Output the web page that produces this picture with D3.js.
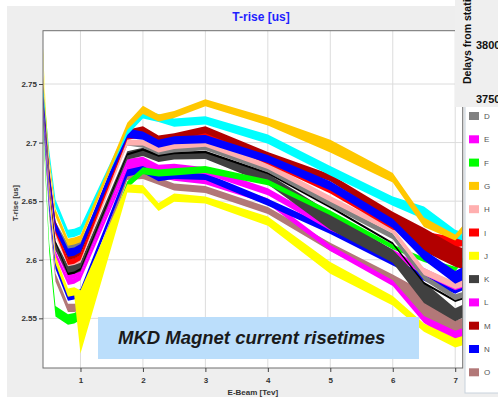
<!DOCTYPE html>
<html>
<head>
<meta charset="utf-8">
<script src="https://cdn.jsdelivr.net/npm/d3@7"></script>
<style>
  body { margin: 0; background: #fff; }
  svg { display: block; font-family: "Liberation Sans", Arial, sans-serif; }
</style>
</head>
<body>
<div id="chart"></div>
<script>
// E-Beam energies [TeV] where the risetimes were sampled
const energies = [0.4, 0.5, 0.6, 0.8, 0.9, 1.0, 1.75, 2.0, 2.25, 2.5, 3, 4, 5, 6, 6.5, 7, 7.12];
const xTicks = [1, 2, 3, 4, 5, 6, 7];
const yTicks = [2.55, 2.6, 2.65, 2.7, 2.75];

const seriesNames = ["A", "B", "C", "D", "E", "F", "G", "H", "I", "J", "K", "L", "M", "N", "O"];

// band centre values, T-rise [us]
const midA = [2.740, 2.665, 2.615, 2.588, 2.589, 2.592, 2.690, 2.694, 2.689, 2.691, 2.692, 2.674, 2.645, 2.614, 2.580, 2.565, 2.567];
const midB = [2.725, 2.645, 2.595, 2.568, 2.569, 2.572, 2.674, 2.677, 2.670, 2.672, 2.671, 2.649, 2.625, 2.598, 2.585, 2.574, 2.577];
const midC = [2.745, 2.690, 2.648, 2.622, 2.623, 2.625, 2.710, 2.724, 2.721, 2.717, 2.719, 2.703, 2.676, 2.650, 2.640, 2.622, 2.620];
const midD = [2.738, 2.672, 2.630, 2.611, 2.612, 2.613, 2.700, 2.698, 2.692, 2.694, 2.696, 2.677, 2.648, 2.620, 2.585, 2.568, 2.570];
const midE = [2.738, 2.665, 2.612, 2.586, 2.587, 2.590, 2.683, 2.685, 2.678, 2.679, 2.676, 2.658, 2.628, 2.606, 2.590, 2.577, 2.579];
const midF = [2.715, 2.610, 2.556, 2.549, 2.550, 2.553, 2.664, 2.676, 2.674, 2.675, 2.677, 2.666, 2.640, 2.611, 2.600, 2.592, 2.600];
const midG = [2.755, 2.685, 2.640, 2.615, 2.616, 2.618, 2.714, 2.728, 2.721, 2.724, 2.734, 2.718, 2.697, 2.670, 2.632, 2.619, 2.626];
const midH = [2.742, 2.668, 2.622, 2.597, 2.598, 2.600, 2.700, 2.700, 2.694, 2.697, 2.699, 2.680, 2.652, 2.625, 2.590, 2.578, 2.580];
const midI = [2.748, 2.670, 2.625, 2.598, 2.599, 2.602, 2.705, 2.707, 2.701, 2.703, 2.707, 2.684, 2.659, 2.628, 2.622, 2.615, 2.616];
const midJ = [2.778, 2.660, 2.600, 2.572, 2.573, 2.547, 2.661, 2.660, 2.645, 2.653, 2.651, 2.633, 2.593, 2.565, 2.542, 2.529, 2.531];
const midK = [2.735, 2.660, 2.612, 2.591, 2.592, 2.594, 2.689, 2.692, 2.687, 2.689, 2.689, 2.669, 2.633, 2.603, 2.572, 2.553, 2.556];
const midL = [2.730, 2.655, 2.605, 2.581, 2.582, 2.585, 2.678, 2.681, 2.673, 2.670, 2.667, 2.650, 2.610, 2.580, 2.549, 2.534, 2.536];
const midM = [2.745, 2.675, 2.630, 2.603, 2.604, 2.607, 2.708, 2.711, 2.703, 2.705, 2.711, 2.689, 2.670, 2.637, 2.617, 2.603, 2.601];
const midN = [2.740, 2.672, 2.628, 2.606, 2.607, 2.610, 2.708, 2.706, 2.699, 2.702, 2.703, 2.686, 2.663, 2.631, 2.604, 2.585, 2.588];
const midO = [2.722, 2.640, 2.585, 2.559, 2.559, 2.560, 2.671, 2.672, 2.667, 2.662, 2.660, 2.642, 2.611, 2.584, 2.562, 2.540, 2.542];

// band spread (max - min) [us]
const widA = [0.002, 0.002, 0.002, 0.002, 0.002, 0.002, 0.002, 0.002, 0.002, 0.002, 0.002, 0.002, 0.002, 0.002, 0.002, 0.002, 0.002];
const widB = [0.006, 0.006, 0.006, 0.006, 0.006, 0.006, 0.006, 0.006, 0.006, 0.006, 0.006, 0.006, 0.006, 0.006, 0.006, 0.006, 0.006];
const widC = [0.007, 0.007, 0.007, 0.007, 0.007, 0.007, 0.007, 0.007, 0.007, 0.007, 0.007, 0.008, 0.008, 0.008, 0.011, 0.007, 0.007];
const widD = [0.005, 0.005, 0.005, 0.005, 0.005, 0.005, 0.005, 0.005, 0.005, 0.005, 0.005, 0.005, 0.005, 0.005, 0.005, 0.005, 0.005];
const widE = [0.006, 0.006, 0.006, 0.006, 0.006, 0.006, 0.006, 0.006, 0.006, 0.006, 0.006, 0.006, 0.006, 0.006, 0.006, 0.006, 0.006];
const widF = [0.006, 0.008, 0.009, 0.009, 0.009, 0.009, 0.006, 0.006, 0.006, 0.006, 0.006, 0.005, 0.004, 0.004, 0.004, 0.004, 0.004];
const widG = [0.006, 0.006, 0.006, 0.006, 0.006, 0.006, 0.006, 0.007, 0.006, 0.006, 0.006, 0.007, 0.011, 0.008, 0.008, 0.005, 0.006];
const widH = [0.005, 0.005, 0.005, 0.005, 0.005, 0.005, 0.005, 0.005, 0.005, 0.005, 0.005, 0.005, 0.005, 0.005, 0.006, 0.006, 0.006];
const widI = [0.005, 0.005, 0.005, 0.005, 0.005, 0.005, 0.005, 0.005, 0.005, 0.005, 0.005, 0.005, 0.005, 0.005, 0.004, 0.009, 0.009];
const widJ = [0.006, 0.006, 0.007, 0.007, 0.007, 0.054, 0.007, 0.007, 0.007, 0.007, 0.006, 0.008, 0.010, 0.008, 0.007, 0.008, 0.008];
const widK = [0.007, 0.007, 0.008, 0.008, 0.008, 0.008, 0.007, 0.007, 0.007, 0.007, 0.006, 0.009, 0.015, 0.011, 0.018, 0.011, 0.011];
const widL = [0.005, 0.005, 0.005, 0.005, 0.005, 0.005, 0.005, 0.005, 0.005, 0.005, 0.005, 0.005, 0.005, 0.005, 0.006, 0.011, 0.011];
const widM = [0.006, 0.006, 0.006, 0.006, 0.006, 0.006, 0.006, 0.006, 0.006, 0.006, 0.006, 0.006, 0.006, 0.008, 0.020, 0.018, 0.018];
const widN = [0.007, 0.007, 0.007, 0.007, 0.007, 0.007, 0.008, 0.007, 0.007, 0.007, 0.007, 0.007, 0.008, 0.008, 0.009, 0.011, 0.011];
const widO = [0.007, 0.007, 0.007, 0.007, 0.007, 0.007, 0.006, 0.006, 0.006, 0.006, 0.006, 0.006, 0.007, 0.007, 0.022, 0.016, 0.016];

const mids = { A: midA, B: midB, C: midC, D: midD, E: midE, F: midF, G: midG, H: midH,
               I: midI, J: midJ, K: midK, L: midL, M: midM, N: midN, O: midO };
const wids = { A: widA, B: widB, C: widC, D: widD, E: widE, F: widF, G: widG, H: widH,
               I: widI, J: widJ, K: widK, L: widL, M: widM, N: widN, O: widO };

const colors = { A: "#000000", B: "#0000ff", C: "#00ffff", D: "#808080", E: "#ff00ff",
                 F: "#00ff00", G: "#ffc800", H: "#ffafaf", I: "#ff0000", J: "#ffff00",
                 K: "#404040", L: "#ff00ff", M: "#b20000", N: "#0000ff", O: "#b27878" };
const drawOrder = ["O", "L", "B", "E", "K", "F", "A", "D", "H", "I", "M", "N", "C", "G", "J"];

const W = 498, H = 397;
const plotL = 43, plotR = 462.7, plotT = 30.7, plotB = 368;
const overlayBottom = 107;

const svg = d3.select("#chart").append("svg")
  .attr("width", W)
  .attr("height", H);

// chart panel background
svg.append("rect")
  .attr("x", 7).attr("y", 6)
  .attr("width", W - 7).attr("height", H - 6)
  .attr("fill", "#eeeeee");

var x = d3.scaleLinear().domain([0.4, 7.12]).range([plotL, plotR]);
var y = d3.scaleLinear().domain([2.5076, 2.7955]).range([plotB, plotT]);

// plot area
svg.append("rect")
  .attr("x", plotL).attr("y", plotT)
  .attr("width", plotR - plotL).attr("height", plotB - plotT)
  .attr("fill", "#fff");

var grid = svg.append("g").attr("stroke", "#dcdcdc").attr("stroke-width", 1);
grid.selectAll("line.vx")
  .data(xTicks).enter().append("line")
  .attr("x1", d => x(d)).attr("x2", d => x(d))
  .attr("y1", plotT).attr("y2", plotB);
grid.selectAll("line.hy")
  .data(yTicks).enter().append("line")
  .attr("x1", plotL).attr("x2", plotR)
  .attr("y1", d => y(d)).attr("y2", d => y(d));

svg.append("clipPath").attr("id", "plotClip")
  .append("rect")
  .attr("x", plotL).attr("y", plotT)
  .attr("width", plotR - plotL).attr("height", plotB - plotT);

var band = d3.area()
  .x(d => x(d.e))
  .y0(d => y(d.v - d.w / 2))
  .y1(d => y(d.v + d.w / 2));

var bands = svg.append("g").attr("clip-path", "url(#plotClip)");
drawOrder.forEach(function(name) {
  var pts = energies.map((e, i) => ({ e: e, v: mids[name][i], w: wids[name][i] }));
  bands.append("path")
    .datum(pts)
    .attr("d", band)
    .attr("fill", colors[name]);
});

// border
svg.append("rect")
  .attr("x", plotL).attr("y", plotT)
  .attr("width", plotR - plotL).attr("height", plotB - plotT)
  .attr("fill", "none")
  .attr("stroke", "#6e6e6e");

var yAxis = svg.append("g")
  .attr("transform", "translate(" + plotL + ",0)")
  .call(d3.axisLeft(y).tickValues(yTicks).tickSize(4).tickPadding(2).tickFormat(d3.format("")));
var xAxis = svg.append("g")
  .attr("transform", "translate(0," + plotB + ")")
  .call(d3.axisBottom(x).tickValues(xTicks).tickSize(4).tickPadding(5).tickFormat(d3.format("d")));

[yAxis, xAxis].forEach(function(a) {
  a.select(".domain").remove();
  a.selectAll(".tick line").attr("stroke", "#444");
  a.selectAll(".tick text")
    .attr("font-size", 8)
    .attr("font-weight", "bold")
    .attr("fill", "#333")
    .attr("font-family", "Liberation Sans, Arial, sans-serif");
});

svg.append("text")
  .attr("x", 261).attr("y", 21)
  .attr("text-anchor", "middle")
  .attr("font-size", 12).attr("font-weight", "bold")
  .attr("fill", "#1f1fff")
  .text("T-rise [us]");

svg.append("text")
  .attr("x", (plotL + plotR) / 2).attr("y", 395)
  .attr("text-anchor", "middle")
  .attr("font-size", 8).attr("font-weight", "bold")
  .attr("fill", "#333")
  .text("E-Beam [Tev]");

svg.append("text")
  .attr("transform", "translate(18,203) rotate(-90)")
  .attr("text-anchor", "middle")
  .attr("font-size", 7.5).attr("font-weight", "bold")
  .attr("fill", "#333")
  .text("T-rise [us]");

// annotation box
svg.append("rect")
  .attr("x", 98).attr("y", 317)
  .attr("width", 321).attr("height", 42)
  .attr("fill", "#bbdefb");
svg.append("text")
  .attr("x", 118).attr("y", 343.5)
  .attr("font-size", 18.5).attr("font-weight", "bold").attr("font-style", "italic")
  .attr("fill", "#1a1a1a")
  .text("MKD Magnet current risetimes");

// legend (its first rows sit under the overlapping panel and are not drawn)
svg.append("rect")
  .attr("x", 465).attr("y", 0)
  .attr("width", 40).attr("height", 393)
  .attr("fill", "#fff")
  .attr("stroke", "#c8d2dc");

var legendRows = seriesNames
  .map((d, i) => ({ name: d, cy: 46.1 + i * 23.3 }))
  .filter(d => d.cy > overlayBottom);

var legend = svg.append("g").selectAll("g")
  .data(legendRows).enter().append("g")
  .attr("transform", d => "translate(469," + d.cy + ")");
legend.append("rect")
  .attr("x", 0).attr("y", -4)
  .attr("width", 10).attr("height", 8)
  .attr("fill", d => colors[d.name]);
legend.append("text")
  .attr("x", 15).attr("y", 3)
  .attr("font-size", 8)
  .attr("fill", "#555")
  .text(d => d.name);

// overlapping panel from a neighbouring chart
svg.append("rect")
  .attr("x", 455).attr("y", 0)
  .attr("width", 43).attr("height", overlayBottom)
  .attr("fill", "#efefef");
svg.append("text")
  .attr("transform", "translate(470.5,84) rotate(-90)")
  .attr("font-size", 10.5).attr("font-weight", "bold")
  .attr("fill", "#111")
  .text("Delays from stations");
svg.append("text")
  .attr("x", 476).attr("y", 49)
  .attr("font-size", 11).attr("font-weight", "bold")
  .attr("fill", "#111")
  .text("3800");
svg.append("text")
  .attr("x", 476).attr("y", 103)
  .attr("font-size", 11).attr("font-weight", "bold")
  .attr("fill", "#111")
  .text("3750");
</script>
</body>
</html>
